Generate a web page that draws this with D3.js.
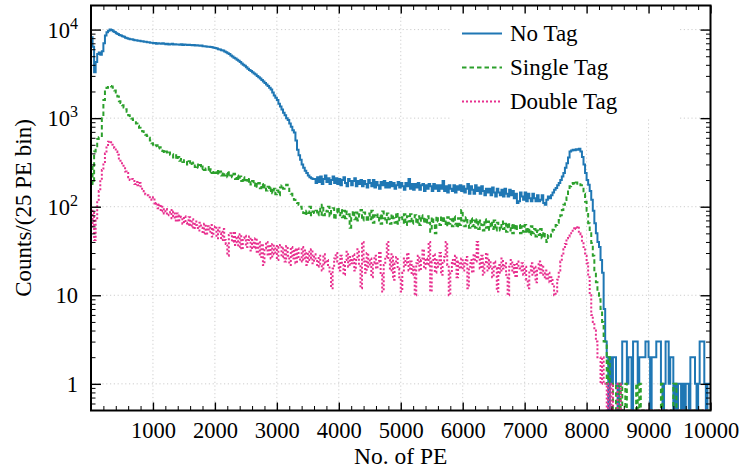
<!DOCTYPE html>
<html>
<head>
<meta charset="utf-8">
<script src="https://cdn.jsdelivr.net/npm/d3@7"></script>
<style>
body { margin: 0; background: #fff; }
text { font-family: "Liberation Serif", "Times New Roman", serif; fill: #000; }
</style>
</head>
<body>
<script>
// Width and Height of the whole chart
var width = 742;
var height = 470;

// histogram bins of 25 PE, starting at 0
var binWidth = 25;

var noTag = [
  8200, 6400, 3300, 4300, 5300, 5500, 5200, 5700, 7000, 8600,
  9300, 9700, 10000, 9900, 9600, 9400, 9100, 8900, 8700, 8600,
  8400, 8300, 8100, 8000, 7900, 7800, 7800, 7700, 7600, 7600,
  7500, 7500, 7400, 7400, 7300, 7300, 7200, 7200, 7100, 7100,
  7000, 7050, 6900, 7000, 6950, 6900, 7000, 6900, 6850, 6900,
  6800, 6850, 6900, 6800, 6850, 6800, 6800, 6750, 6850, 6700,
  6800, 6750, 6700, 6750, 6700, 6650, 6700, 6600, 6650, 6600,
  6550, 6600, 6500, 6500, 6450, 6400, 6400, 6350, 6300, 6250,
  6200, 6100, 6000, 5950, 5850, 5800, 5650, 5550, 5400, 5300,
  5100, 4950, 4800, 4700, 4550, 4450, 4300, 4150, 4000, 3900,
  3750, 3600, 3500, 3400, 3300, 3200, 3100, 3000, 2900, 2800,
  2700, 2600, 2500, 2400, 2300, 2200, 2100, 1950, 1800, 1700,
  1600, 1450, 1350, 1250, 1150, 1080, 1000, 950, 870, 800,
  730, 690, 560, 440, 380, 340, 300, 275, 255, 240,
  225, 215, 210, 205,
  205, 185, 215, 190, 220, 180, 205, 225, 190, 210, 180, 200, 220, 185, 210, 180,
  205, 175, 200, 215, 185, 170, 205, 195, 175, 195, 210, 170, 195, 180, 200, 170,
  195, 180, 165, 200, 185, 170, 200, 165, 190, 175, 160, 190, 175, 195, 165, 185,
  165, 190, 170, 185, 160, 175, 190, 165, 185, 170, 155, 185, 170, 205, 160, 180,
  155, 180, 165, 185, 155, 175, 180, 150, 175, 160, 180, 170, 150, 180, 160, 175,
  150, 175, 160, 195, 150, 170, 145, 175, 160, 150, 175, 145, 170, 155, 175, 150,
  170, 145, 160, 180, 140, 170, 155, 140, 175, 150, 165, 140, 170, 150, 135, 160,
  145, 160, 135, 165, 145, 130, 160, 145, 135, 155, 130, 160, 140, 130, 155, 135,
  150, 125, 140, 110, 115, 145, 130, 120, 145, 115, 140, 125, 115, 140, 125, 115,
  135, 115, 120, 135, 110, 105, 120, 130,
  125, 135, 145, 155, 163, 175, 185, 200, 220, 240, 275, 310, 360, 420, 430, 440,
  435, 445, 440, 450, 420, 365, 300, 240, 200, 177, 150, 120, 90, 65, 50, 40,
  35, 25, 18, 7, 3,
  2, 0, 2, 1, 2, 2, 1, 0, 1, 1, 3, 3, 3, 1, 2, 2,
  0, 3, 3, 3, 1, 2, 2, 2, 2, 3, 3, 2, 0, 2, 2, 2,
  3, 3, 3, 1, 0, 1, 3, 3, 1, 2, 2, 0, 1, 0, 1, 1,
  0, 1, 0, 1, 1, 0, 2, 2, 2, 1, 0, 1, 3, 3, 3, 1, 0, 1, 1
];

var singleTag = [
  280, 180, 420, 480, 580, 610, 630, 1000, 1600, 2050,
  2200, 2250, 2300, 2280, 2200, 2050, 1950, 1750, 1550, 1480,
  1400, 1320, 1260, 1180, 1080, 1030, 990, 950, 900, 870,
  820, 780, 740, 710, 680, 650, 630, 600, 560, 520,
  500, 480, 495, 455, 470, 430, 425, 400, 420, 395,
  410, 385, 390, 360, 380, 340, 365, 330, 345, 320,
  335, 320, 300, 325, 295, 310, 315, 280, 300, 275,
  295, 265, 285, 260, 270, 280, 245, 265, 240, 255,
  240, 260, 230, 250, 225, 245, 225, 240, 215, 245,
  225, 215, 235, 205, 225, 200, 220, 195, 215, 190,
  200, 185, 205, 178, 195, 172, 190, 168, 185, 162,
  180, 158, 175, 152, 168, 150, 165, 142, 160, 138,
  152, 135, 165, 175, 160, 170, 177, 165, 150, 140,
  130, 120, 115, 110, 105, 100, 95, 85, 80, 90,
  85, 100, 80, 88, 85, 90, 80, 95, 81, 105, 80, 90,
  88, 100, 78, 92, 96, 72, 86, 98, 80, 92, 76, 90, 74, 88, 82, 58,
  76, 90, 72, 86, 70, 82, 92, 70, 86, 76, 68, 84, 72, 90, 66, 80,
  84, 70, 80, 64, 88, 74, 66, 84, 72, 64, 82, 74, 66, 86, 64, 78,
  76, 66, 82, 62, 78, 68, 82, 64, 74, 80, 64, 78, 62, 80, 68, 76,
  64, 78, 66, 52, 76, 64, 50, 78, 68, 62, 78, 66, 74, 60, 76, 64,
  72, 60, 78, 64, 58, 74, 62, 92, 70, 60, 76, 62, 58, 74, 60, 70,
  58, 72, 56, 70, 62, 54, 72, 58, 68, 55, 68, 56, 70, 54, 66, 58,
  54, 68, 56, 64, 52, 66, 54, 62, 50, 64, 54, 60, 62, 50, 60, 52,
  62, 50, 58, 48, 60, 50, 56, 46, 54, 48, 56, 44, 52, 46, 40, 48,
  46, 52, 55, 58,
  62, 66, 71, 80, 92, 105, 119, 135, 155, 170, 180, 185, 178, 188, 182, 185,
  175, 168, 140, 114, 90, 65, 50, 39, 28, 18, 14, 11, 9, 7, 5, 3,
  3, 1, 2, 1, 1, 0, 0, 1, 1, 0, 1, 0, 0, 1, 0, 0,
  0, 0, 0, 0, 1, 0, 1, 0, 0, 0, 0, 0, 0, 0, 0, 0,
  0, 0, 0, 0, 1, 0, 0, 0, 0, 0, 0, 0, 1, 1, 0, 0,
  0, 0, 0, 0, 0, 0, 0, 0, 0, 0, 0, 0, 0, 0, 0, 0, 0, 0, 0, 0
];

var doubleTag = [
  60, 90, 42, 70, 120, 150, 200, 260, 320, 400,
  480, 540, 550, 500, 470, 460, 420, 385, 350, 330,
  300, 280, 250, 240, 215, 200, 205, 195, 180, 190,
  175, 185, 170, 150, 145, 138, 135, 128, 125, 120,
  128, 105, 110, 96, 106, 88, 100, 84, 94, 80,
  86, 92, 74, 88, 70, 84, 68, 80, 76, 64,
  78, 66, 62, 76, 60, 72, 56, 68, 62, 54,
  66, 58, 50, 64, 48, 60, 52, 62, 46, 56,
  60, 44, 58, 50, 42, 56, 42, 38, 28, 48,
  50, 40, 52, 37, 46, 35, 49, 33, 44, 47,
  35, 42, 46, 32, 42, 34, 44, 30, 40, 27,
  38, 22, 34, 40, 28, 37, 26, 38, 29, 36,
  25, 35, 37, 27, 34, 24, 36, 28, 22, 35,
  26, 33, 23, 34, 27, 24, 35, 25, 32, 22,
  31, 25, 33, 23, 29, 26, 21, 28, 22, 19, 29, 23,
  25, 22, 18, 12, 20, 26, 30, 24, 19, 28, 22, 17, 25, 31, 21, 27,
  23, 29, 19, 25, 33, 22, 12, 40, 24, 18, 30, 21, 26, 16, 23, 28,
  20, 24, 31, 17, 11, 22, 27, 40, 25, 19, 29, 15, 23, 27, 20, 16,
  11, 18, 26, 22, 30, 19, 24, 17, 21, 10, 23, 28, 19, 25, 33, 20,
  26, 22, 40, 11, 24, 29, 18, 25, 21, 30, 17, 24, 27, 40, 22, 10,
  18, 25, 22, 28, 16, 24, 20, 26, 19, 23, 27, 12, 21, 25, 18, 29,
  24, 40, 26, 20, 28, 17, 23, 30, 19, 25, 21, 16, 24, 20, 11, 22,
  18, 26, 20, 23, 17, 10, 21, 25, 18, 22, 16, 24, 20, 19, 23, 17,
  21, 15, 12, 19, 23, 17, 21, 14, 20, 24, 18, 22, 16, 19, 15, 18,
  14, 16, 13, 10,
  11, 15, 19, 24, 28, 33, 38, 44, 46, 50, 52, 55, 59, 56, 60, 50,
  46, 40, 35, 28, 23, 16, 10, 6, 5, 4, 3, 2, 2, 1, 2, 1,
  1, 0, 1, 0, 1, 0, 0, 0, 1, 1, 0, 0, 0, 0, 0, 0,
  0, 0, 0, 0, 0, 0, 0, 0, 0, 0, 0, 0, 0, 0, 0, 0,
  0, 0, 0, 0, 0, 0, 0, 0, 0, 0, 0, 0, 0, 0, 0, 0,
  0, 0, 0, 0, 0, 0, 0, 0, 0, 0, 0, 0, 0, 0, 0, 0,
  0, 0, 0, 0
];

var seriesNames = ["No Tag", "Single Tag", "Double Tag"];
var xTicks = [1000, 2000, 3000, 4000, 5000, 6000, 7000, 8000, 9000, 10000];
var yTicks = [1, 10, 100, 1000, 10000];
var yTickLabels = [["1", ""], ["10", ""], ["10", "2"], ["10", "3"], ["10", "4"]];

var colors = ["#1f77b4", "#2ca02c", "#e8308f"];
var dashes = [null, "4.5,3", "2,2"];

var plotLeft = 91, plotRight = 710.5, plotTop = 5.5, plotBottom = 410.5;

var svg = d3.select("body")
    .append("svg")
    .attr("width", width)
    .attr("height", height);

var x = d3.scaleLinear().domain([0, 10000]).range([plotLeft, plotRight]);
var y = d3.scaleLog().domain([0.5, 18700]).range([plotBottom, plotTop]).clamp(true);

// grid
var grid = svg.append("g")
    .attr("stroke", "#c8c8c8")
    .attr("stroke-width", 0.9)
    .attr("stroke-dasharray", "1.2,2.6");

grid.selectAll(".gx")
    .data(xTicks.filter(function(d) { return d < 10000; }))
    .enter().append("line")
    .attr("x1", function(d) { return x(d); })
    .attr("x2", function(d) { return x(d); })
    .attr("y1", plotTop)
    .attr("y2", plotBottom);

grid.selectAll(".gy")
    .data(yTicks)
    .enter().append("line")
    .attr("x1", plotLeft)
    .attr("x2", plotRight)
    .attr("y1", function(d) { return y(d); })
    .attr("y2", function(d) { return y(d); });

// clip the histograms to the plot box
svg.append("clipPath").attr("id", "plotclip")
  .append("rect")
    .attr("x", plotLeft)
    .attr("y", plotTop)
    .attr("width", plotRight - plotLeft)
    .attr("height", plotBottom - plotTop);

function stepPoints(values) {
  var pts = values.map(function(v, i) { return [i * binWidth, v]; });
  pts.push([values.length * binWidth, values[values.length - 1]]);
  return pts;
}

var line = d3.line()
    .curve(d3.curveStepAfter)
    .x(function(d) { return x(d[0]); })
    .y(function(d) { return y(d[1] > 0 ? d[1] : 1e-3); });

var series = [noTag, singleTag, doubleTag];

svg.append("g")
    .attr("clip-path", "url(#plotclip)")
  .selectAll("path")
    .data(series)
    .enter().append("path")
    .attr("fill", "none")
    .attr("stroke", function(d, i) { return colors[i]; })
    .attr("stroke-width", 2)
    .attr("stroke-dasharray", function(d, i) { return dashes[i]; })
    .attr("d", function(d) { return line(stepPoints(d)); });

// legend
var legend = svg.append("g");
legend.append("rect")
    .attr("x", 450)
    .attr("y", 9)
    .attr("width", 230)
    .attr("height", 110)
    .attr("fill", "#fff");

var items = legend.selectAll(".item")
    .data(seriesNames)
    .enter().append("g")
    .attr("transform", function(d, i) { return "translate(0," + (33.5 + i * 34) + ")"; });

items.append("line")
    .attr("x1", 462)
    .attr("x2", 502)
    .attr("stroke", function(d, i) { return colors[i]; })
    .attr("stroke-width", 2)
    .attr("stroke-dasharray", function(d, i) { return dashes[i]; });

items.append("text")
    .attr("x", 510)
    .attr("y", 7.5)
    .style("font-size", "23px")
    .text(function(d) { return d; });

// ticks (inward on all four sides)
var xMinor = d3.range(200, 10000, 200).filter(function(d) { return d % 1000 != 0; });
var yMinor = [];
[0.1, 1, 10, 100, 1000, 10000].forEach(function(dec) {
  for (var k = 2; k < 10; k++) {
    var v = k * dec;
    if (v > 0.5 && v < 18700) yMinor.push(v);
  }
});

function tickStyle(g, w) {
  g.select(".domain").remove();
  g.selectAll(".tick line").attr("stroke", "#000").attr("stroke-width", w);
}

svg.append("g")
    .attr("transform", "translate(0," + plotBottom + ")")
    .call(d3.axisBottom(x).tickValues(xTicks).tickSize(-8).tickPadding(12).tickFormat(d3.format("d")))
    .call(tickStyle, 1.4)
    .call(function(g) {
      g.selectAll("text").style("font-size", "22.5px").style("font-family", "Liberation Serif").attr("fill", "#000");
    });

svg.append("g")
    .attr("transform", "translate(0," + plotBottom + ")")
    .call(d3.axisBottom(x).tickValues(xMinor).tickSize(-4.5).tickFormat(""))
    .call(tickStyle, 1);

svg.append("g")
    .attr("transform", "translate(0," + plotTop + ")")
    .call(d3.axisTop(x).tickValues(xTicks).tickSize(-8).tickFormat(""))
    .call(tickStyle, 1.4);

svg.append("g")
    .attr("transform", "translate(0," + plotTop + ")")
    .call(d3.axisTop(x).tickValues(xMinor).tickSize(-4.5).tickFormat(""))
    .call(tickStyle, 1);

svg.append("g")
    .attr("transform", "translate(" + plotLeft + ",0)")
    .call(d3.axisLeft(y).tickValues(yTicks).tickSize(-10).tickFormat(""))
    .call(tickStyle, 1.4);

svg.append("g")
    .attr("transform", "translate(" + plotLeft + ",0)")
    .call(d3.axisLeft(y).tickValues(yMinor).tickSize(-4.5).tickFormat(""))
    .call(tickStyle, 1);

svg.append("g")
    .attr("transform", "translate(" + plotRight + ",0)")
    .call(d3.axisRight(y).tickValues(yTicks).tickSize(-10).tickFormat(""))
    .call(tickStyle, 1.4);

svg.append("g")
    .attr("transform", "translate(" + plotRight + ",0)")
    .call(d3.axisRight(y).tickValues(yMinor).tickSize(-4.5).tickFormat(""))
    .call(tickStyle, 1);

// y tick labels with superscripts
var yLab = svg.selectAll(".ylab")
    .data(yTicks)
    .enter().append("text")
    .attr("x", 78)
    .attr("y", function(d) { return y(d) + 8; })
    .attr("text-anchor", "end")
    .style("font-size", "22.5px");

yLab.append("tspan")
    .text(function(d, i) { return yTickLabels[i][0]; });
yLab.append("tspan")
    .attr("dy", -9)
    .style("font-size", "16px")
    .text(function(d, i) { return yTickLabels[i][1]; });

// frame
svg.append("rect")
    .attr("x", plotLeft)
    .attr("y", plotTop)
    .attr("width", plotRight - plotLeft)
    .attr("height", plotBottom - plotTop)
    .attr("fill", "none")
    .attr("stroke", "#000")
    .attr("stroke-width", 2);

// axis titles
svg.append("text")
    .attr("x", (plotLeft + plotRight) / 2)
    .attr("y", 464)
    .attr("text-anchor", "middle")
    .style("font-size", "23.5px")
    .text("No. of PE");

svg.append("text")
    .attr("transform", "translate(31," + ((plotTop + plotBottom) / 2) + ") rotate(-90)")
    .attr("text-anchor", "middle")
    .style("font-size", "23px")
    .text("Counts/(25 PE bin)");
</script>
</body>
</html>
